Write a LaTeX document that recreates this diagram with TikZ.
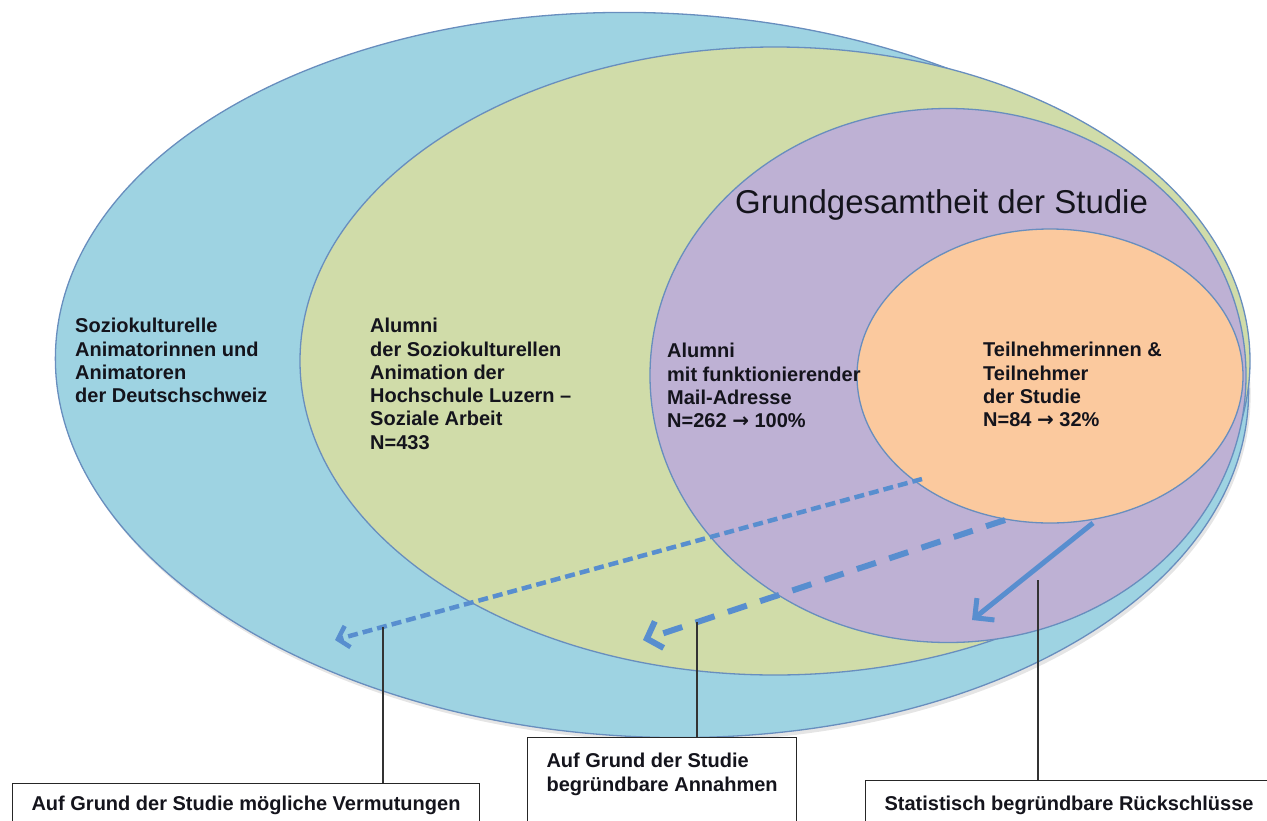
\documentclass[tikz,border=0pt]{standalone}
\usepackage{fontspec}
\setmainfont{Liberation Sans}
\newfontfamily\arrowglyph{DejaVu Sans}
\usetikzlibrary{arrows.meta}

\definecolor{skyfill}{RGB}{158,211,226}
\definecolor{limefill}{RGB}{208,220,169}
\definecolor{lilacfill}{RGB}{190,177,212}
\definecolor{peachfill}{RGB}{251,201,158}
\definecolor{rimblue}{RGB}{104,142,190}
\definecolor{arrowblue}{RGB}{88,142,207}
\definecolor{inkdark}{RGB}{20,20,28}

\newcommand{\yields}{{\arrowglyph\bfseries →}}

\begin{document}
\begin{tikzpicture}[x=1pt,y=-1pt,
  setshape/.style={draw=rimblue, line width=1.3pt},
  setlabel/.style={anchor=north west, inner sep=0pt, align=left, text=inkdark,
    font=\fontsize{20}{23.3}\selectfont\bfseries},
  notebox/.style={draw=black!85, line width=1.1pt, fill=white, anchor=north west,
    align=left, inner xsep=19pt, text depth=40pt, text=inkdark,
    font=\fontsize{20}{24}\selectfont\bfseries},
  leader/.style={draw=black!80, line width=1.2pt},
  flow/.style={draw=arrowblue, line cap=butt}
]
\useasboundingbox (0,0) rectangle (1267,820);

% nested sets
\fill[black, opacity=0.10, rotate around={-2.5:(654,379)}] (654,379) ellipse [x radius=597pt, y radius=362pt];
\path[setshape, fill=skyfill, rotate around={-2.5:(652,375)}] (652,375) ellipse [x radius=597pt, y radius=362pt];
\path[setshape, fill=limefill] (775,361) ellipse [x radius=475pt, y radius=314pt];
\path[setshape, fill=lilacfill] (948,375.5) ellipse [x radius=298pt, y radius=267pt];
\path[setshape, fill=peachfill] (1050,376) ellipse [x radius=193pt, y radius=147pt];

% set labels
\node[setlabel] (swiss) at (75,318) {Soziokulturelle\\Animatorinnen und\\Animatoren\\der Deutschschweiz};
\node[setlabel] (alumni) at (370,318) {Alumni\\der Soziokulturellen\\Animation der\\Hochschule Luzern –\\Soziale Arbeit\\N=433};
\node[setlabel] (mail) at (667,343) {Alumni\\mit funktionierender\\Mail-Adresse\\N=262 \yields{} 100\%};
\node[setlabel] (part) at (983,342) {Teilnehmerinnen \&\\Teilnehmer\\der Studie\\N=84 \yields{} 32\%};
\node[anchor=base west, inner sep=0pt, text=inkdark, font=\fontsize{33}{40}\selectfont] (pop) at (735,213) {Grundgesamtheit der Studie};

% inference arrows
\coordinate (a1s) at (922,479);
\coordinate (a1e) at (335,640);
\coordinate (a2s) at (1005,520);
\coordinate (a2e) at (643,640);
\coordinate (a3s) at (1093,523);
\coordinate (a3e) at (972,620);
\draw[flow, line width=4.5pt, dash pattern=on 10pt off 5pt,
  -{Straight Barb[length=10pt, width=22pt]}] (a1s) -- (a1e);
\draw[flow, line width=6pt, dash pattern=on 20pt off 14pt,
  -{Straight Barb[length=13pt, width=28pt]}] (a2s) -- (a2e);
\draw[flow, line width=5pt,
  -{Straight Barb[length=14pt, width=28pt]}] (a3s) -- (a3e);

% explanation boxes
\node[notebox, inner ysep=12pt] (vermutung) at (12,783) {Auf Grund der Studie mögliche Vermutungen};
\node[notebox, inner ysep=15pt] (annahme) at (527,737) {Auf Grund der Studie\\begründbare Annahmen};
\node[notebox, inner ysep=15pt] (schluss) at (865,780) {Statistisch begründbare Rückschlüsse};

% leader lines
\coordinate (l1) at (383,627);
\coordinate (l2) at (697,622);
\coordinate (l3) at (1038,580);
\draw[leader] (l1) -- (l1 |- vermutung.north);
\draw[leader] (l2) -- (l2 |- annahme.north);
\draw[leader] (l3) -- (l3 |- schluss.north);
\end{tikzpicture}
\end{document}
